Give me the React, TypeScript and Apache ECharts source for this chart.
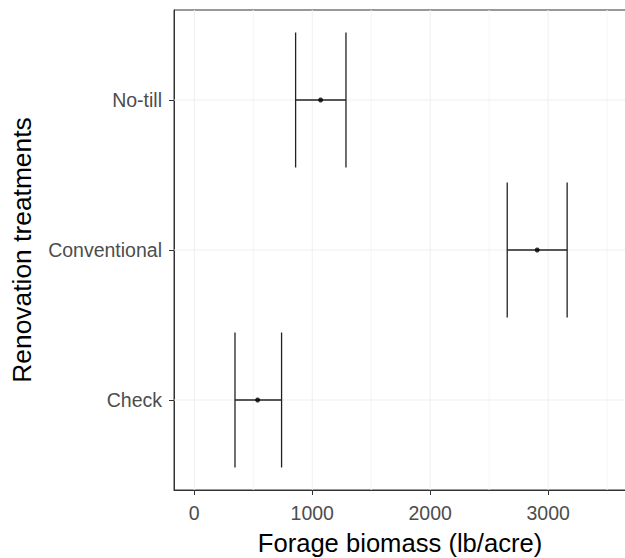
import React, { useEffect, useRef } from "react";
import * as echarts from "echarts";

// Treatments from bottom to top of the y axis
const treatments = ["Check", "Conventional", "No-till"];
const means = [537, 2907, 1071];
const lower = [345, 2653, 859];
const upper = [740, 3161, 1286];
const xTicks = [0, 1000, 2000, 3000];
const xMinorTicks = [500, 1500, 2500, 3500];
const xTitle = "Forage biomass (lb/acre)";
const yTitle = "Renovation treatments";

const FONT = "'Liberation Sans', Arial, sans-serif";

export default function App() {
  const ref = useRef<HTMLDivElement>(null);
  useEffect(() => {
    if (!ref.current) return;
    const chart = echarts.init(ref.current, undefined, { renderer: "svg" });
    const yPos = treatments.map((_, i) => i + 1);
    const barData = treatments.map((_, i) => [yPos[i], lower[i], upper[i]]);
    const pointData = treatments.map((_, i) => [means[i], yPos[i]]);

    // [value, orientation (0 = vertical, 1 = horizontal), major (1) / minor (0)]
    const gridData = [
      ...xMinorTicks.map((v) => [v, 0, 0]),
      ...xTicks.map((v) => [v, 0, 1]),
      ...yPos.map((v) => [v, 1, 1]),
    ];

    chart.setOption({
      animation: false,
      backgroundColor: "#ffffff",
      textStyle: { fontFamily: FONT },
      grid: {
        left: 174,
        right: 14,
        top: 10,
        bottom: 68,
        show: true,
        borderColor: "#333333",
        borderWidth: 1,
        backgroundColor: "transparent",
        containLabel: false,
        outerBoundsMode: "none",
      },
      xAxis: {
        type: "value",
        min: -172,
        max: 3660,
        name: xTitle,
        nameLocation: "middle",
        nameGap: 40,
        nameTextStyle: { fontSize: 25.6, color: "#000000", fontFamily: FONT },
        axisLine: { show: true, onZero: false, lineStyle: { color: "#333333", width: 1 } },
        axisTick: { show: true, length: 5, customValues: xTicks, lineStyle: { color: "#333333" } },
        axisLabel: {
          customValues: xTicks,
          margin: 13,
          fontSize: 19.5,
          color: "#4d4d4d",
          fontFamily: FONT,
          formatter: (v: number) => String(v),
        },
        splitLine: { show: false },
      },
      yAxis: {
        type: "value",
        min: 0.4,
        max: 3.6,
        name: yTitle,
        nameLocation: "middle",
        nameGap: 139,
        nameRotate: 90,
        nameTextStyle: { fontSize: 26.4, color: "#000000", fontFamily: FONT },
        axisLine: { show: true, onZero: false, lineStyle: { color: "#333333", width: 1 } },
        axisTick: { show: true, length: 5, customValues: yPos, lineStyle: { color: "#333333" } },
        axisLabel: {
          customValues: yPos,
          margin: 12,
          fontSize: 19.5,
          color: "#4d4d4d",
          fontFamily: FONT,
          formatter: (v: number) => treatments[Math.round(v) - 1] ?? "",
        },
        splitLine: { show: false },
      },
      series: [
        {
          type: "custom",
          silent: true,
          z: 1,
          data: gridData,
          encode: { x: 0, y: 1 },
          renderItem: (params: any, api: any) => {
            const v = api.value(0);
            const horiz = api.value(1) === 1;
            const major = api.value(2) === 1;
            const cs = params.coordSys;
            const style = { stroke: major ? "#efefef" : "#f5f5f5", lineWidth: 1 };
            if (horiz) {
              const y = api.coord([0, v])[1];
              return { type: "line", shape: { x1: cs.x, y1: y, x2: cs.x + cs.width, y2: y }, style };
            }
            const x = api.coord([v, 1])[0];
            return { type: "line", shape: { x1: x, y1: cs.y, x2: x, y2: cs.y + cs.height }, style };
          },
        },
        {
          type: "custom",
          silent: true,
          z: 5,
          data: barData,
          encode: { x: [1, 2], y: 0 },
          renderItem: (params: any, api: any) => {
            const y = api.value(0);
            const lo = api.value(1);
            const hi = api.value(2);
            const pLo = api.coord([lo, y]);
            const pHi = api.coord([hi, y]);
            const top = api.coord([lo, y + 0.45])[1];
            const bot = api.coord([lo, y - 0.45])[1];
            const style = { stroke: "#222222", lineWidth: 1.3 };
            return {
              type: "group",
              children: [
                { type: "line", shape: { x1: pLo[0], y1: pLo[1], x2: pHi[0], y2: pHi[1] }, style },
                { type: "line", shape: { x1: pLo[0], y1: top, x2: pLo[0], y2: bot }, style },
                { type: "line", shape: { x1: pHi[0], y1: top, x2: pHi[0], y2: bot }, style },
              ],
            };
          },
        },
        {
          type: "scatter",
          z: 6,
          data: pointData,
          symbol: "circle",
          symbolSize: 5,
          itemStyle: { color: "#000000" },
          silent: true,
        },
      ],
    });
    return () => chart.dispose();
  }, []);
  return (
    <div style={{ position: "absolute", left: 0, top: 0, width: 625, height: 558, overflow: "hidden" }}>
      <div ref={ref} style={{ width: 640, height: 558 }} />
    </div>
  );
}
